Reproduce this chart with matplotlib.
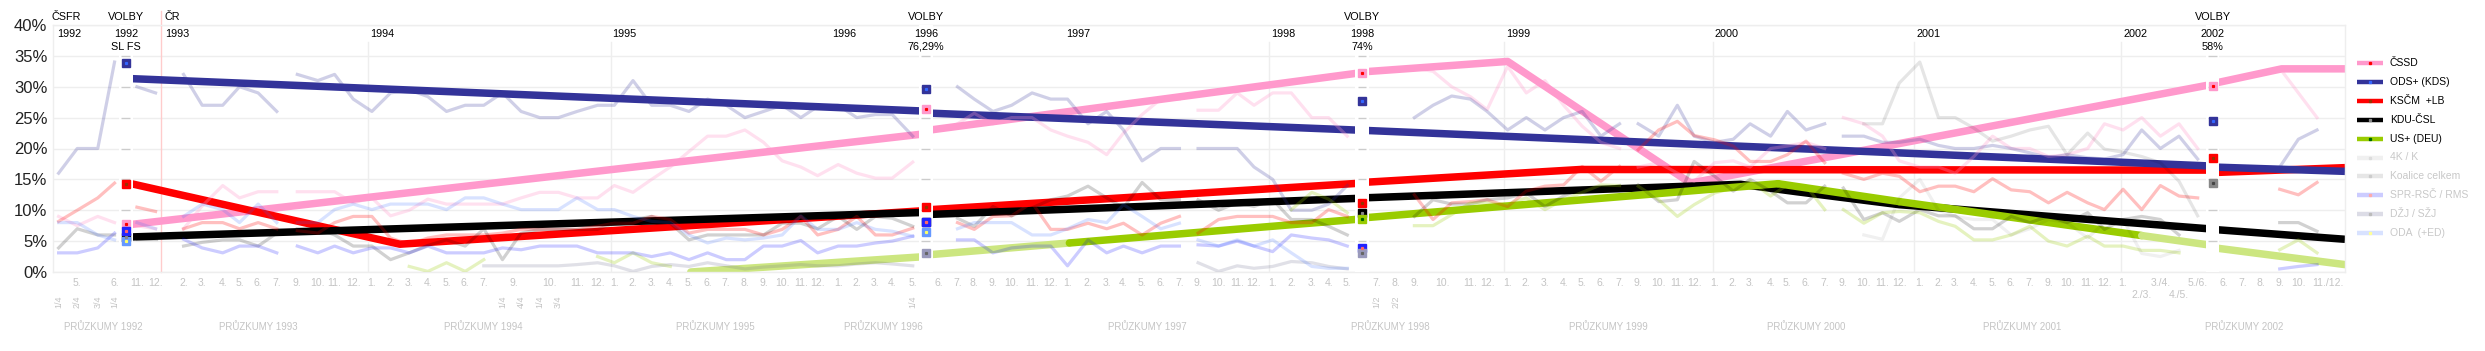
import matplotlib.pyplot as plt
from matplotlib.lines import Line2D
from matplotlib.transforms import blended_transform_factory

plt.rcParams['font.family'] = ['Liberation Sans', 'DejaVu Sans']
NARROW = ['Liberation Sans Narrow', 'Liberation Sans', 'DejaVu Sans']
N = None

# === Survey columns (position on the survey axis, ~1 unit per monthly poll) ===
COL_X = [0.3, 1.3, 2.4, 3.3, 4.5, 5.5,
         7.0, 8.0, 9.1, 10.0, 11.0, 12.0, 13.1, 14.2, 15.1, 16.1,
         17.1, 18.1, 19.1, 20.1, 21.1, 22.1, 23.1, 24.1, 25.1, 26.1, 27.1, 28.1, 29.2,
         30.1, 31.1, 32.1, 33.1, 34.1, 35.1, 36.1, 37.1, 38.1, 39.1, 40.1, 41.0,
         42.1, 43.1, 44.1, 45.0, 46.1, 48.5, 49.4, 50.4, 51.4, 52.5, 53.5,
         54.4, 55.5, 56.5, 57.4, 58.4, 59.4, 60.4, 61.4, 62.5, 63.5, 64.4,
         65.4, 66.4, 67.5, 68.4, 69.4, 73.0, 74.0, 75.0, 76.0, 76.9,
         78.0, 79.0, 80.0, 81.0, 82.0, 83.0, 84.0, 85.0, 86.1, 87.1, 88.0,
         89.1, 90.1, 91.0, 92.1, 93.0, 94.0, 95.0, 96.0, 97.1, 98.1, 99.0,
         100.1, 101.1, 102.0, 103.0, 104.0, 105.0, 106.0, 107.0, 108.0, 109.1, 110.0,
         111.0, 112.0, 113.0, 114.0, 115.0, 119.4, 120.4, 121.4]
# poll lines are broken after these columns (elections, split of ČSFR, summer gaps)
BREAK_AFTER = [3, 5, 11, 45, 58, 67, 79, 90, 110]

# === Poll series (%), one value per survey column ===
ODS_POLL = [16, 20, 20, 34, 30, 29,
            32, 27, 27, 30, 29, 26, 32, 31, 32, 28,
            26, 29, 29.5, 28.4, 26, 27, 27, 29, 26, 25, 25, 26, 27,
            27, 31, 27, 27, 26, 28, 27, 25, 26, 27, 25, 26.8,
            27, 25, 25.5, 25.5, 22, 30, 28, 26, 27, 29, 28,
            28, 24, 26, 23, 18, 20, 20, 20, 20, 20, 17,
            15, 10, 10, 11, 14, 25, 27, 28.5, 28, 26,
            23, 25, 23, 25, 26, 22, 24, 24, 22, 27, 22,
            21, 21.5, 24, 22, 26, 23, 24, 22, 22, 21, 21,
            21.5, 20.5, 20, 20, 20.5, 20, 19.3, 18.5, 19, 18.5, 18.3,
            19, 23, 20, 22, 18.3, 17, 21.5, 23]
CSSD_POLL = [9, 7.5, 9, 8, 7.5, 7,
             7, 10.7, 14, 12, 13, 13, 13, 13, 13, 11.2,
             12, 9.1, 10, 11.8, 11, 11, 11, 11, 12, 12.9, 12.9, 12, 12,
             14, 12.9, 15, 17, 19.5, 22, 22, 23, 21, 18, 17, 15.6,
             17.4, 16, 15.2, 15.2, 17.8, 24, 25.7, 24, 25, 25, 23,
             22, 21, 19, 22.5, 25.5, 28, 28, 26.2, 26.2, 29, 27,
             29, 29, 25, 25, 22, 33, 32.5, 30, 28.4, 26.3,
             33.3, 29, 31, 27, 23.6, 21, 20, 17, 17.7, 16, 14.7,
             17.7, 18, 17, 20, 20.4, 21, 20, 25, 24, 22, 18,
             17, 17, 16, 18.7, 22, 20, 20, 18.7, 19, 20, 24,
             23, 25, 22, 24, 20, 33, 29, 25]
KSCM_POLL = [8.2, 10, 12, 14.4, 10.5, 9.8,
             7, 8, 8, 7, 8, 7, 6.7, 6.3, 8, 9,
             9, 5.5, 4.5, 5.5, 6, 6, 6, 6.3, 6.9, 6.9, 6.9, 6.9, 7.4,
             7.9, 7.9, 9, 8.5, 6.3, 6.9, 6.9, 6.9, 6, 6.9, 9, 6,
             6.9, 9, 6, 6, 7.1, 8, 6.9, 9, 9.1, 11.2, 6.9,
             6.9, 7.9, 7, 7.9, 6, 7.9, 9, 6.3, 8.5, 9, 9,
             9, 8, 8, 10.1, 9, 12.5, 8.5, 11.2, 11.4, 11.7,
             10.6, 13.1, 13.9, 14.1, 17.1, 14.7, 17.1, 19.8, 23, 24.4, 22.1,
             21.4, 20.4, 17.9, 17.9, 19, 21.2, 17.7, 16, 15, 16, 15.5,
             13, 13.9, 13.9, 13, 15.1, 13.3, 13, 11.2, 12.9, 11.2, 10.1,
             13.4, 10.1, 14, 12.3, 12, 13.4, 12.5, 14.5]
KDU_POLL = [3.9, 7, 6, 6, 5.3, 5.3,
            4.2, 4.8, 5.2, 5.2, 4.2, 6.3, 7, 7, 6, 4.2,
            4.2, 2, 3.1, 4.3, 5.2, 4.2, 7, 2, 6.3, 6.9, 6.9, 6.9, 6.9,
            7.9, 8.5, 9, 7.9, 5.2, 6, 6, 6, 6, 7.9, 7.9, 7,
            9, 6.9, 9, 8.7, 7.4, 8.7, 7.4, 10.6, 9.1, 10.4, 11.7,
            12.3, 13.9, 12, 10.4, 14.5, 11.7, 11.7, 11.7, 10, 11.2, 10.6,
            11.7, 8.5, 8.5, 7.4, 6, 9, 11.7, 11, 11, 11.7,
            12, 12.8, 10.6, 12.3, 13.6, 13.3, 14, 14.1, 11.4, 11.7, 17.9,
            15.5, 13.1, 15, 13.1, 11.2, 11.2, 13.9, 13.6, 8.5, 9.6, 8.2,
            10.1, 9.1, 9.1, 7, 7, 9, 8, 9, 8, 9.6, 6.9,
            8.5, 9, 8.5, 6, N, 8, 8, 6.6]
US_POLL = [N] * 16 + \
          [N, N, 0.9, 0.1, 1.5, 0.1, 2, N, N, N, N, N, 2.5,
           1.5, 3.1, 1.5, 0.9, N, N, N, N, N, N, N, N] + [N] * 22 + \
          [N, 10.1, 12.9, 11.8, 9.6, 7.5, 7.5, 9.3, 11.2, 11.2,
           11, 12, 10.1, 11.7, 12.9, 14.1, 14, 13.9, 11.7, 9, 10.9,
           12.8, 13.6, 14.7, 12.3, 14.1, 13.9, 10.1, 10.1, 7.9, 9.6, 9.8,
           9.6, 8.2, 7.4, 5.2, 5.2, 6, 7.4, 5, 4.2, 5.8, 4.2,
           4.2, 3.5, 3.5, 3.1, N, 3.6, 5.2, 3.1]
ODA_POLL = [8, 8, 6, 5.2, 8, 7,
            9, 11, 10.1, 8, 11, 8, 8, 8, 10.1, 11,
            10.1, 11, 11, 11, 10.1, 12, 12, 11, 10.1, 10.1, 10.1, 12, 10.1,
            10.1, 9, 8.2, 8, 6, 4.7, 5.5, 5.2, 5.5, 6, 9.1, 6.9,
            6.9, 8, 6.9, 6.6, 5.8, 7, 8, 8, 8, 6, 6,
            7, 8.5, 8, 10.9, 9, 7, 7.9, 5.2, 4.2, 5.2, 4.2,
            5.2, 3.1, 0.9, 0.6, 0.6] + [N] * 46
SPR_POLL = [3.1, 3.1, 3.9, 6.3, N, N,
            5.3, 3.9, 3.1, 4.2, 4.2, 3.1, 4.2, 3.1, 4.2, 3.1,
            3.9, 3.9, 3.1, 4.2, 3.1, 3.1, 3.1, 3.9, 3.6, 4.2, 4.2, 4.2, 3.1,
            3.1, 3.1, 2.5, 3.1, 2, 3.1, 2, 2, 4.2, 4.2, 5.1, 3.1,
            4.2, 4.2, 4.7, 5, 5.8, 5.2, 5.2, 3.1, 3.9, 4.2, 4.2,
            1, 5.2, 3.1, 4.2, 3.1, 4.2, 4.2, 4.4, 4.2, 5, 4.2,
            3.3, 6, 5.5, 5.2, 4.2] + [N] * 43 + [0.5, 0.9, 1.2]
DZJ_POLL = [N] * 16 + \
           [N, N, N, N, N, N, 1, 1, 1, 1, 1, 1.2, 1.5,
            1, 0.1, 0.9, 1.2, 0.9, 1.5, 1, 0.5, 0.8, 1, 1.2, 1,
            1, 1.3, 1.5, 1.3, 1, N, N, N, N, N, N,
            N, N, N, N, N, N, N, 1.5, 0.1, 1, 0.6,
            0.9, 1.7, 1.5, 0.9, 0.5] + [N] * 46
K4_POLL = [N] * 92 + [6, 5.3, 12,
                      15, 10, 9, 8.5, 8.5, 6, 7, 8.5, 8, 5.5, 8,
                      8.5, 3, 2.5, 3.5, N, N, N, N]
KOAL_POLL = [N] * 92 + [24, 24, 30.6,
                        34, 25, 25, 23.3, 21.2, 22, 23, 23.6, 19, 22.5, 19.9,
                        19.4, 18.7, 17.7, 14.7, 9.1, N, N, N]

# === Trend lines between elections (None = break) ===
CSSD_TX = [3.9, 46.8, N, 46.8, 70.2, N, 70.2, 78.0, 87.8, 115.8, N, 115.8, 119.5, 122.9]
CSSD_TY = [7.6, 22.4, N, 22.9, 32.3, N, 32.4, 34.1, 14.4, 30.4, N, 30.5, 32.9, 32.9]
ODS_TX = [3.9, 46.8, N, 46.8, 70.2, N, 70.2, 115.8, N, 115.8, 122.9]
ODS_TY = [31.35, 26.05, N, 25.75, 22.95, N, 22.95, 17.15, N, 17.0, 16.3]
KSCM_TX = [3.9, 18.6, 46.8, N, 46.8, 70.2, N, 70.2, 81.9, 115.8, N, 115.8, 122.9]
KSCM_TY = [14.5, 4.5, 9.95, N, 10.05, 14.4, N, 14.5, 16.6, 16.5, N, 16.1, 16.9]
KDU_TX = [3.9, 46.8, N, 46.8, 70.2, N, 70.2, 90.5, 93.5, 99.0, 115.8, N, 115.8, 122.9]
KDU_TY = [5.65, 9.65, N, 9.3, 11.95, N, 12.0, 14.2, 13.0, 10.9, 6.95, N, 6.9, 5.3]
US_TX = [34.2, 46.8, N, 46.8, 54.5, 70.2, N, 70.2, 92.5, 99.0, 112.0, 115.8, N, 115.8, 122.9]
US_TY = [0.0, 2.5, N, 2.75, 4.7, 8.6, N, 8.75, 14.3, 11.4, 5.9, 4.3, N, 3.95, 1.2]

# === Election results ===
ELECTION_X = [3.9, 46.8, 70.2, 115.8]
ELECTION_YEAR = ["1992", "1996", "1998", "2002"]
ELECTION_NOTE = ["SL FS", "76,29%", "74%", "58%"]
E_ODS = [33.9, 29.6, 27.7, 24.5]
E_CSSD = [7.7, 26.4, 32.3, 30.2]
E_KSCM = [14.3, 10.5, 11.2, 18.5]
E_KDU = [5.7, 8.1, 9.6, N]
E_US = [N, N, 8.6, N]
E_SPR = [6.6, 8.1, 3.9, N]
E_ODA = [5.1, 6.4, N, N]
E_DZJ = [N, 3.1, 3.1, N]
E_KOAL = [N, N, N, 14.4]

# === Axis labels ===
MONTH_LABELS = ["5.", "6.", "11.", "12.",
                "2.", "3.", "4.", "5.", "6.", "7.", "9.", "10.", "11.", "12.",
                "1.", "2.", "3.", "4.", "5.", "6.", "7.", "9.", "10.", "11.", "12.",
                "1.", "2.", "3.", "4.", "5.", "6.", "7.", "8.", "9.", "10.", "11.", "12.",
                "1.", "2.", "3.", "4.", "5.", "6.", "7.", "8.", "9.", "10.", "11.", "12.",
                "1.", "2.", "3.", "4.", "5.", "6.", "7.", "9.", "10.", "11.", "12.",
                "1.", "2.", "3.", "4.", "5.", "7.", "8.", "9.", "10.", "11.", "12.",
                "1.", "2.", "3.", "4.", "5.", "6.", "7.", "9.", "10.", "11.", "12.",
                "1.", "2.", "3.", "4.", "5.", "6.", "7.", "9.", "10.", "11.", "12.",
                "1.", "2.", "3.", "4.", "5.", "6.", "7.", "9.", "10.", "11.", "12.",
                "1.", "3./4.", "5./6.", "6.", "7.", "8.", "9.", "10.", "11./12."]
MONTH_POS = [1.3, 3.3, 4.5, 5.5,
             7.0, 8.0, 9.1, 10.0, 11.0, 12.0, 13.1, 14.2, 15.1, 16.1,
             17.1, 18.1, 19.1, 20.1, 21.1, 22.1, 23.1, 24.7, 26.6, 28.1, 29.2,
             30.1, 31.1, 32.1, 33.1, 34.1, 35.1, 36.1, 37.1, 38.1, 39.1, 40.1, 41.0,
             42.1, 43.1, 44.1, 45.0, 46.1, 47.5, 48.5, 49.4, 50.4, 51.4, 52.5, 53.5,
             54.4, 55.5, 56.5, 57.4, 58.4, 59.4, 60.4, 61.4, 62.5, 63.5, 64.4,
             65.4, 66.4, 67.5, 68.4, 69.4, 71.0, 72.0, 73.0, 74.5, 76.0, 76.9,
             78.0, 79.0, 80.0, 81.0, 82.0, 83.0, 84.0, 85.0, 86.1, 87.1, 88.0,
             89.1, 90.1, 91.0, 92.1, 93.0, 94.0, 95.0, 96.0, 97.1, 98.1, 99.0,
             100.1, 101.1, 102.0, 103.0, 104.0, 105.0, 106.0, 107.0, 108.0, 109.1, 110.0,
             111.0, 113.0, 115.0, 116.4, 117.4, 118.4, 119.4, 120.4, 122.0]
MONTH2_LABELS = ["2./3.", "4./5."]
MONTH2_POS = [112.0, 114.0]
SUB_LABELS = ["1/4", "2/4", "3/4", "1/4", "1/4", "4/4", "1/4", "3/4", "1/4", "1/2", "2/2"]
SUB_POS = [0.3, 1.3, 2.4, 3.3, 24.1, 25.1, 26.1, 27.1, 46.1, 71.0, 72.0]
SURVEY_TITLES = ["PRŮZKUMY %d" % y for y in range(1992, 2003)]
SURVEY_TITLE_POS = [2.7, 11.0, 23.1, 35.5, 44.5, 58.7, 71.7, 83.4, 94.0, 105.6, 117.5]
YEAR_LABELS = ["1992", "1993", "1994", "1995", "1996", "1997", "1998", "1999", "2000", "2001", "2002"]
YEAR_POS = [0.2, 6.0, 17.0, 30.0, 41.8, 54.3, 65.3, 77.9, 89.1, 99.9, 111.0]
YEAR_LINES = [16.9, 29.9, 65.2, 77.8, 89.0, 99.8, 110.9]
CR_LINE = 5.8

# === Styles ===
polls = [  # data, base colour, alpha
    (CSSD_POLL, '#ff99cc', 0.30), (ODS_POLL, '#333399', 0.23), (KSCM_POLL, '#ff0000', 0.25),
    (KDU_POLL, '#000000', 0.18), (US_POLL, '#99cc00', 0.25), (K4_POLL, '#000000', 0.06),
    (KOAL_POLL, '#000000', 0.10), (SPR_POLL, '#0000ff', 0.20), (DZJ_POLL, '#666688', 0.20),
    (ODA_POLL, '#3366ff', 0.19),
]
trends = [(CSSD_TX, CSSD_TY, '#ff99cc'), (KSCM_TX, KSCM_TY, '#ff0000'),
          (ODS_TX, ODS_TY, '#333399'), (KDU_TX, KDU_TY, '#000000')]
US_DARK, US_PALE = '#99cc00', '#cce680'
US_DARK_FROM, US_DARK_TO = 54.5, 112.0
results = [  # values, square colour, dot colour
    (E_ODS, '#333399', '#3366ff'), (E_CSSD, '#ff99cc', '#ff0000'), (E_KSCM, '#ff0000', '#993300'),
    (E_KDU, '#000000', '#888888'), (E_US, '#99cc00', '#006600'), (E_SPR, '#2222ff', '#ff6666'),
    (E_ODA, '#6699ff', '#ffff66'), (E_DZJ, '#9999bb', '#666666'), (E_KOAL, '#888888', '#444444'),
]
legend = [("ČSSD", '#ff99cc', '#ff0000', 'black'), ("ODS+ (KDS)", '#333399', '#3366ff', 'black'),
          ("KSČM  +LB", '#ff0000', '#993300', 'black'), ("KDU-ČSL", '#000000', '#888888', 'black'),
          ("US+ (DEU)", '#99cc00', '#006600', 'black'), ("4K / K", '#f0f0f0', '#dddddd', '#c8c8c8'),
          ("Koalice celkem", '#e6e6e6', '#cccccc', '#c8c8c8'),
          ("SPR-RSČ / RMS", '#ccccff', '#ffaaaa', '#c8c8c8'),
          ("DŽJ / SŽJ", '#dcdce6', '#bbbbbb', '#c8c8c8'), ("ODA  (+ED)", '#d8e2ff', '#ffff99', '#c8c8c8')]


def runs(xs, ys, breaks=()):
    sx, sy = [], []
    for i, (x, y) in enumerate(zip(xs, ys)):
        if x is None or y is None:
            if len(sx) > 1:
                yield sx, sy
            sx, sy = [], []
            continue
        sx.append(x)
        sy.append(y)
        if i in breaks:
            if len(sx) > 1:
                yield sx, sy
            sx, sy = [], []
    if len(sx) > 1:
        yield sx, sy


fig = plt.figure(figsize=(24.85, 3.51), dpi=100)
ax = fig.add_axes([53 / 2485, 79 / 351, 2292 / 2485, 247 / 351])
ax.set_xlim(0, 122.9)
ax.set_ylim(0, 40)

# grid / frame
ax.set_yticks(range(0, 41, 5))
ax.set_yticklabels(['%d%%' % v for v in range(0, 41, 5)])
ax.yaxis.grid(True, color='#eeeeee', lw=1)
ax.set_axisbelow(True)
ax.set_xticks([])
ax.tick_params(axis='y', length=0, pad=4, labelsize=12, labelcolor='#222222')
for s in ax.spines.values():
    s.set_color('#eeeeee')
    s.set_linewidth(1)

# year separators
for x in YEAR_LINES:
    ax.axvline(x, ymin=0, ymax=0.93, color='#eeeeee', lw=1, zorder=0.6)
ax.axvline(CR_LINE, ymin=0, ymax=1.055, color='#ffcccc', lw=1, zorder=0.6, clip_on=False)

# trend lines
for tx, ty, col in trends:
    for sx, sy in runs(tx, ty):
        ax.plot(sx, sy, color=col, lw=5.4, solid_capstyle='butt', zorder=2)
for sx, sy in runs(US_TX, US_TY):
    for a in range(len(sx) - 1):
        mid = (sx[a] + sx[a + 1]) / 2
        col = US_DARK if US_DARK_FROM < mid < US_DARK_TO else US_PALE
        ax.plot(sx[a:a + 2], sy[a:a + 2], color=col, lw=5.4, solid_capstyle='round', zorder=2)

# poll lines
for data, col, a in polls:
    for sx, sy in runs(COL_X, data, BREAK_AFTER):
        ax.plot(sx, sy, color=col, alpha=a, lw=2.3, zorder=3)

# election gaps and results
for e in ELECTION_X:
    ax.axvspan(e - 0.37, e + 0.37, color='white', lw=0, zorder=4)
    ax.hlines(range(5, 40, 5), e - 0.23, e + 0.23, color='#cccccc', lw=1, zorder=4.5)
for vals, col, dot in results:
    for e, v in zip(ELECTION_X, vals):
        if v is None:
            continue
        ax.plot(e, v, 's', ms=5.8, mfc=col, mec=col, zorder=5)
        ax.plot(e, v, 's', ms=1.3, mfc=dot, mec=dot, zorder=6)

# texts above plot
tr = blended_transform_factory(ax.transData, ax.transAxes)
tk = dict(transform=tr, clip_on=False, family=NARROW, color='black', zorder=10)
ax.text(0.7, 1.032, "ČSFR", ha='center', va='center', fontsize=7.8, **tk)
ax.text(6.0, 1.032, "ČR", ha='left', va='center', fontsize=7.8, **tk)
for e, yr, note in zip(ELECTION_X, ELECTION_YEAR, ELECTION_NOTE):
    ax.text(e, 1.032, "VOLBY", ha='center', va='center', fontsize=7.8, **tk)
    ax.text(e, 0.9636, yr, ha='center', va='center', fontsize=7.8, **tk)
    ax.text(e, 0.911, note, ha='center', va='center', fontsize=7.8, **tk)
for x, yr in zip(YEAR_POS, YEAR_LABELS):
    ax.text(x, 0.9636, yr, ha='left', va='center', fontsize=7.8, **tk)

# texts below plot
gk = dict(transform=tr, clip_on=False, color='#c4c4c4', zorder=10)
for x, lab in zip(MONTH_POS, MONTH_LABELS):
    ax.text(x, -0.0445, lab, ha='center', va='center', fontsize=7.5, **gk)
for x, lab in zip(MONTH2_POS, MONTH2_LABELS):
    ax.text(x, -0.093, lab, ha='center', va='center', fontsize=7.5, **gk)
for x, lab in zip(SUB_POS, SUB_LABELS):
    ax.text(x, -0.1215, lab, ha='center', va='center', fontsize=6.5, rotation=90, **gk)
for x, lab in zip(SURVEY_TITLE_POS, SURVEY_TITLES):
    ax.text(x, -0.2227, lab, ha='center', va='center', fontsize=7, **gk)

# legend
for i, (lab, lc, dc, tc) in enumerate(legend):
    y = 1 - (63 + 18.9 * i) / 351
    fig.add_artist(Line2D([2357 / 2485, 2383 / 2485], [y, y], color=lc, lw=3.2,
                          solid_capstyle='butt'))
    fig.add_artist(Line2D([2370 / 2485], [y], marker='s', ms=1.4, mfc=dc, mec=dc, lw=0))
    fig.text(2390 / 2485, y, lab, ha='left', va='center', fontsize=7.5, color=tc)

fig.savefig('out.png', dpi=100)
